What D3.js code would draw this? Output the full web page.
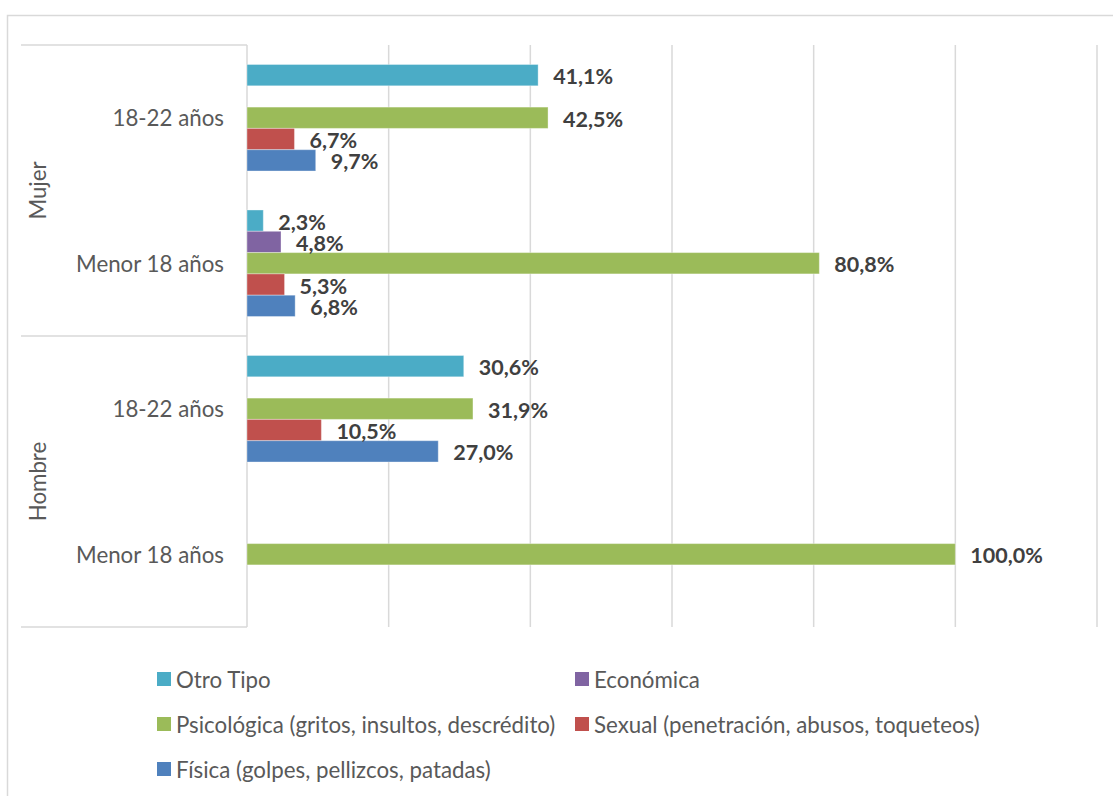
<!DOCTYPE html>
<html>
<head>
<meta charset="utf-8">
<script src="https://cdn.jsdelivr.net/npm/d3@7"></script>
<style>
  html, body { margin: 0; padding: 0; background: #fff; }
  svg { display: block; }
</style>
</head>
<body>
<svg id="chart" width="1113" height="796"></svg>
<script>
// ---- data ----
const groups = ["Mujer", "Hombre"];
const categories = [
  { group: "Mujer", label: "18-22 años" },
  { group: "Mujer", label: "Menor 18 años" },
  { group: "Hombre", label: "18-22 años" },
  { group: "Hombre", label: "Menor 18 años" }
];
const seriesNames = [
  "Otro Tipo",
  "Económica",
  "Psicológica (gritos, insultos, descrédito)",
  "Sexual (penetración, abusos, toqueteos)",
  "Física (golpes, pellizcos, patadas)"
];
const seriesColors = ["#4BACC6", "#8064A2", "#9BBB59", "#C0504D", "#4F81BD"];
// values per category, in seriesNames order (null = no bar)
const otroTipo    = [41.1, 2.3, 30.6, null];
const economica   = [null, 4.8, null, null];
const psicologica = [42.5, 80.8, 31.9, 100.0];
const sexual      = [6.7, 5.3, 10.5, null];
const fisica      = [9.7, 6.8, 27.0, null];
const seriesValues = [otroTipo, economica, psicologica, sexual, fisica];
const xTicks = [0, 20, 40, 60, 80, 100, 120];
const legendRows = [
  ["Otro Tipo", "Económica"],
  ["Psicológica (gritos, insultos, descrédito)", "Sexual (penetración, abusos, toqueteos)"],
  ["Física (golpes, pellizcos, patadas)"]
];

// ---- layout ----
const FONT = "Lato, 'Open Sans', sans-serif";
const svg = d3.select("#chart");
const plot = { left: 247, right: 1097, top: 45, bottom: 627 };
const lineColor = "#d9d9d9";

// outer chart border
svg.append("rect")
  .attr("x", 7.5).attr("y", 15.5)
  .attr("width", 1200).attr("height", 900)
  .attr("fill", "none").attr("stroke", lineColor).attr("stroke-width", 1.5);

const x = d3.scaleLinear().domain([0, 120]).range([plot.left, plot.right]);
const y = d3.scaleBand().domain(d3.range(categories.length))
  .range([plot.top, plot.bottom]).paddingInner(0).paddingOuter(0);
const ySub = d3.scaleBand().domain(d3.range(seriesNames.length))
  .range([0, y.bandwidth()]).paddingInner(0).paddingOuter(0.915);

// gridlines
svg.append("g").selectAll("line").data(xTicks).join("line")
  .attr("x1", d => x(d)).attr("x2", d => x(d))
  .attr("y1", plot.top).attr("y2", plot.bottom)
  .attr("stroke", lineColor).attr("stroke-width", 1.5);

// category separator lines (multi-level axis)
const sepYs = [plot.top, y(2), plot.bottom];
svg.append("g").selectAll("line").data(sepYs).join("line")
  .attr("x1", 21).attr("x2", plot.left)
  .attr("y1", d => d).attr("y2", d => d)
  .attr("stroke", lineColor).attr("stroke-width", 1.5);

// bars
const barData = [];
categories.forEach((c, ci) => {
  seriesNames.forEach((s, si) => {
    const v = seriesValues[si][ci];
    if (v != null) barData.push({ ci, si, v });
  });
});
svg.append("g").selectAll("rect").data(barData).join("rect")
  .attr("x", x(0))
  .attr("y", d => y(d.ci) + ySub(d.si))
  .attr("width", d => x(d.v) - x(0))
  .attr("height", ySub.bandwidth())
  .attr("fill", d => seriesColors[d.si])
  .attr("stroke", "rgba(255,255,255,0.35)").attr("stroke-width", 1);

// data labels
svg.append("g").selectAll("text").data(barData).join("text")
  .attr("x", d => x(d.v) + 15)
  .attr("y", d => y(d.ci) + ySub(d.si) + ySub.bandwidth() / 2 + 1)
  .attr("dominant-baseline", "central")
  .attr("font-family", FONT).attr("font-weight", "bold")
  .attr("font-size", 21.5).attr("fill", "#404040")
  .text(d => d.v.toFixed(1).replace(".", ",") + "%");

// inner category labels
svg.append("g").selectAll("text").data(categories).join("text")
  .attr("x", plot.left - 23)
  .attr("y", (d, i) => y(i) + y.bandwidth() / 2)
  .attr("text-anchor", "end").attr("dominant-baseline", "central")
  .attr("font-family", FONT).attr("font-size", 22.3).attr("fill", "#595959")
  .text(d => d.label);

// outer group labels (rotated)
groups.forEach((g, gi) => {
  const idx = categories.map((c, i) => c.group === g ? i : -1).filter(i => i >= 0);
  const y0 = y(idx[0]), y1 = y(idx[idx.length - 1]) + y.bandwidth();
  const cy = (y0 + y1) / 2;
  svg.append("text")
    .attr("transform", `translate(37,${cy}) rotate(-90)`)
    .attr("text-anchor", "middle").attr("dominant-baseline", "central")
    .attr("font-family", FONT).attr("font-size", 22.3).attr("fill", "#595959")
    .text(g);
});

// legend
const legendX = [157, 575];
const legendY = [679, 724, 769];
const legend = svg.append("g");
legendRows.forEach((row, ri) => {
  row.forEach((name, ci) => {
    const si = seriesNames.indexOf(name);
    legend.append("rect")
      .attr("x", legendX[ci]).attr("y", legendY[ri] - 7)
      .attr("width", 14).attr("height", 14)
      .attr("fill", seriesColors[si]);
    legend.append("text")
      .attr("x", legendX[ci] + 19).attr("y", legendY[ri])
      .attr("dominant-baseline", "central")
      .attr("font-family", FONT).attr("font-size", 22.3).attr("fill", "#595959")
      .text(name);
  });
});
</script>
</body>
</html>
